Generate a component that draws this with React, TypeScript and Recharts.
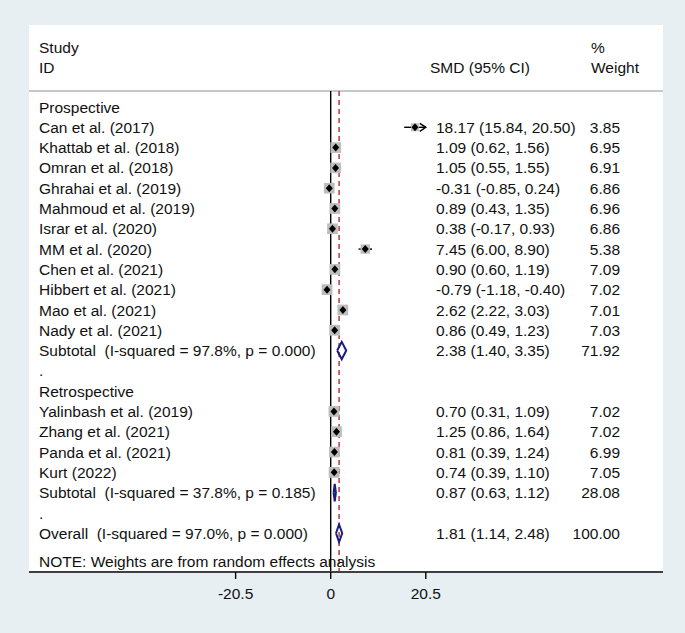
import { ScatterChart, Scatter, XAxis, YAxis, ErrorBar, ReferenceLine, CartesianGrid } from 'recharts';

// study data
const prospectiveStudies = [
  'Can et al. (2017)',
  'Khattab et al. (2018)',
  'Omran et al. (2018)',
  'Ghrahai et al. (2019)',
  'Mahmoud et al. (2019)',
  'Israr et al. (2020)',
  'MM et al. (2020)',
  'Chen et al. (2021)',
  'Hibbert et al. (2021)',
  'Mao et al. (2021)',
  'Nady et al. (2021)',
];
const prospectiveSmd = [18.17, 1.09, 1.05, -0.31, 0.89, 0.38, 7.45, 0.9, -0.79, 2.62, 0.86];
const prospectiveLo = [15.84, 0.62, 0.55, -0.85, 0.43, -0.17, 6.0, 0.6, -1.18, 2.22, 0.49];
const prospectiveHi = [20.5, 1.56, 1.55, 0.24, 1.35, 0.93, 8.9, 1.19, -0.4, 3.03, 1.23];
const prospectiveWeight = [3.85, 6.95, 6.91, 6.86, 6.96, 6.86, 5.38, 7.09, 7.02, 7.01, 7.03];

const retrospectiveStudies = ['Yalinbash et al. (2019)', 'Zhang et al. (2021)', 'Panda et al. (2021)', 'Kurt (2022)'];
const retrospectiveSmd = [0.7, 1.25, 0.81, 0.74];
const retrospectiveLo = [0.31, 0.86, 0.39, 0.39];
const retrospectiveHi = [1.09, 1.64, 1.24, 1.1];
const retrospectiveWeight = [7.02, 7.02, 6.99, 7.05];

const groupNames = ['Prospective', 'Retrospective'];
const subtotalLabels = ['Subtotal  (I-squared = 97.8%, p = 0.000)', 'Subtotal  (I-squared = 37.8%, p = 0.185)'];
const subtotalSmd = [2.38, 0.87];
const subtotalLo = [1.4, 0.63];
const subtotalHi = [3.35, 1.12];
const subtotalWeight = [71.92, 28.08];

const overallLabel = 'Overall  (I-squared = 97.0%, p = 0.000)';
const overallSmd = 1.81;
const overallLo = 1.14;
const overallHi = 2.48;
const overallWeight = 100;

const xTicks = [-20.5, 0, 20.5];
const note = 'NOTE: Weights are from random effects analysis';

const FONT = '"Liberation Sans", Arial, Helvetica, sans-serif';
const FS = 15.5;
const NAVY = '#1c1c80';

type Row = { y: number; left: string; mid: string; right: string; anchor: 'start' | 'end' };

const groups = [
  { s: prospectiveStudies, es: prospectiveSmd, lo: prospectiveLo, hi: prospectiveHi, w: prospectiveWeight },
  { s: retrospectiveStudies, es: retrospectiveSmd, lo: retrospectiveLo, hi: retrospectiveHi, w: retrospectiveWeight },
];

const ci = (e: number, l: number, h: number) => `${e.toFixed(2)} (${l.toFixed(2)}, ${h.toFixed(2)})`;

const textRows: Row[] = [
  { y: -2.96, left: 'Study', mid: '', right: '%', anchor: 'start' },
  { y: -1.97, left: 'ID', mid: 'SMD (95% CI)', right: 'Weight', anchor: 'start' },
];
const studyPts: any[] = [];
const arrowPts: any[] = [];
const diamonds: any[][] = [];

const diamond = (e: number, l: number, h: number, y: number) => [
  { x: l, y },
  { x: e, y: y - 0.43 },
  { x: h, y },
  { x: e, y: y + 0.43 },
  { x: l, y },
];

let r = 0;
groups.forEach((g, gi) => {
  textRows.push({ y: r++, left: groupNames[gi], mid: '', right: '', anchor: 'end' });
  g.s.forEach((name, i) => {
    const y = r++;
    textRows.push({ y, left: name, mid: ci(g.es[i], g.lo[i], g.hi[i]), right: g.w[i].toFixed(2), anchor: 'end' });
    studyPts.push({ x: g.es[i], y, w: g.w[i], err: [g.es[i] - g.lo[i], g.hi[i] - g.es[i]] });
    if (g.hi[i] >= xTicks[2]) arrowPts.push({ x: g.hi[i], y });
  });
  const y = r++;
  textRows.push({ y, left: subtotalLabels[gi], mid: ci(subtotalSmd[gi], subtotalLo[gi], subtotalHi[gi]), right: subtotalWeight[gi].toFixed(2), anchor: 'end' });
  diamonds.push(diamond(subtotalSmd[gi], subtotalLo[gi], subtotalHi[gi], y));
  textRows.push({ y: r++, left: '.', mid: '', right: '', anchor: 'end' });
});
const overallY = r++;
textRows.push({ y: overallY, left: overallLabel, mid: ci(overallSmd, overallLo, overallHi), right: overallWeight.toFixed(2), anchor: 'end' });
diamonds.push(diamond(overallSmd, overallLo, overallHi, overallY));
textRows.push({ y: 22.41, left: note, mid: '', right: '', anchor: 'end' });

const Y_DOMAIN: [number, number] = [-4.04, 22.91];
const LINE_TOP = -0.79;

const RowTick = (props: any) => {
  const { y, payload } = props;
  const row = textRows.find((t) => Math.abs(t.y - payload.value) < 1e-6);
  if (!row) return <g />;
  const common = { y, dy: '0.36em', fontFamily: FONT, fontSize: FS, fill: '#111', style: { whiteSpace: 'pre' as const } };
  return (
    <g>
      <text {...common} x={39} textAnchor="start">{row.left}</text>
      {row.mid && (
        <text {...common} x={row.anchor === 'start' ? 430 : 436} textAnchor="start">{row.mid}</text>
      )}
      {row.right && (
        <text {...common} x={row.anchor === 'start' ? 591 : 620} textAnchor={row.anchor}>{row.right}</text>
      )}
    </g>
  );
};

const StudyBox = (props: any) => {
  const { cx, cy, payload } = props;
  const s = 4.06 * Math.sqrt(payload.w);
  return <rect x={cx - s / 2} y={cy - s / 2} width={s} height={s} fill="#bdbdbd" />;
};

const PointMark = (props: any) => {
  const { cx, cy } = props;
  return <polygon points={`${cx - 3.5},${cy} ${cx},${cy - 4} ${cx + 3.5},${cy} ${cx},${cy + 4}`} fill="#000" />;
};

const ArrowMark = (props: any) => {
  const { cx, cy } = props;
  return <path d={`M${cx - 6},${cy - 4} L${cx},${cy} L${cx - 6},${cy + 4}`} stroke="#000" strokeWidth={1.4} fill="none" />;
};

const NoMark = () => <g />;

export default function App() {
  return (
    <div style={{ position: 'absolute', left: 0, top: 0, width: 685, height: 633, background: '#e8eff2' }}>
      <ScatterChart width={685} height={633} margin={{ top: 25, right: 22, bottom: 31, left: 28 }}>
        <CartesianGrid fill="#ffffff" horizontal={false} vertical={false} />
        <XAxis
          type="number"
          dataKey="x"
          domain={[-65.04, 71.64]}
          ticks={xTicks}
          allowDataOverflow
          height={30}
          tickSize={7}
          tickMargin={9}
          interval={0}
          tickFormatter={(v: number) => String(v)}
          axisLine={{ stroke: '#404040', strokeWidth: 2 }}
          tickLine={{ stroke: '#000', strokeWidth: 1.4 }}
          tick={{ fill: '#111', fontSize: FS, fontFamily: FONT }}
        />
        <YAxis
          type="number"
          dataKey="y"
          domain={Y_DOMAIN}
          reversed
          allowDataOverflow
          width={1}
          ticks={textRows.map((t) => t.y)}
          interval={0}
          axisLine={false}
          tickLine={false}
          tick={(p: any) => <RowTick {...p} />}
        />
        <ReferenceLine y={LINE_TOP} stroke="#c8c8c8" strokeWidth={2} />
        <ReferenceLine
          segment={[{ x: 0, y: LINE_TOP }, { x: 0, y: Y_DOMAIN[1] }]}
          stroke="#000"
          strokeWidth={1.4}
        />
        <ReferenceLine
          segment={[{ x: overallSmd, y: LINE_TOP }, { x: overallSmd, y: Y_DOMAIN[1] }]}
          stroke="#b22a2a"
          strokeWidth={1.4}
          strokeDasharray="5 4"
        />
        <Scatter data={studyPts} shape={<StudyBox />} isAnimationActive={false} />
        <Scatter data={studyPts} shape={<PointMark />} isAnimationActive={false}>
          <ErrorBar dataKey="err" direction="x" width={0} stroke="#000" strokeWidth={1.4} isAnimationActive={false} />
        </Scatter>
        <Scatter data={arrowPts} shape={<ArrowMark />} isAnimationActive={false} />
        {diamonds.map((d, i) => (
          <Scatter
            key={i}
            data={d}
            line={{ stroke: NAVY, strokeWidth: 2 }}
            lineType="joint"
            shape={<NoMark />}
            isAnimationActive={false}
          />
        ))}
      </ScatterChart>
    </div>
  );
}
